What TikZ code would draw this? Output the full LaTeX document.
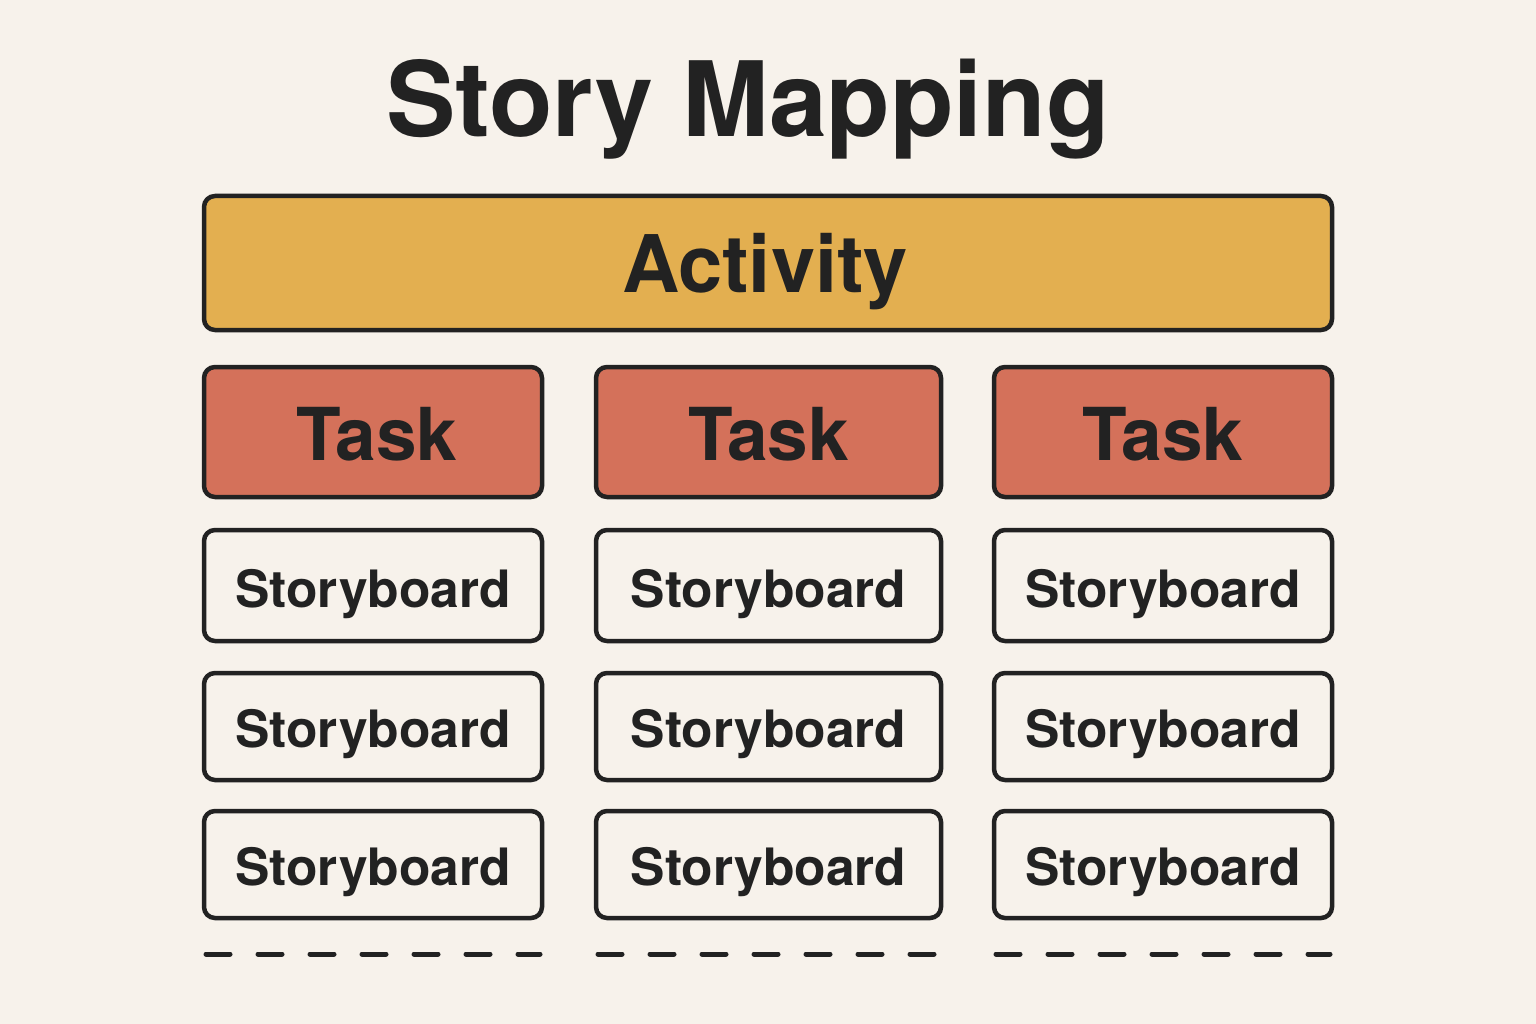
\documentclass[tikz,border=0pt]{standalone}
\usepackage{fontspec}
\setmainfont{TeX Gyre Heros}
\definecolor{bg}{HTML}{F7F2EB}
\definecolor{actfill}{HTML}{E3AF50}
\definecolor{taskfill}{HTML}{D4715A}
\definecolor{ink}{HTML}{222222}
\begin{document}
\begin{tikzpicture}[x=1pt,y=-1pt,
  box/.style={draw=ink,line width=4.5pt,rounded corners=11pt,inner sep=0pt},
  actbox/.style={box,fill=actfill},
  taskbox/.style={box,fill=taskfill},
  sbbox/.style={box,fill=bg},
  lbl/.style={anchor=base,inner sep=0pt,text=ink},
  dashline/.style={draw=ink,line width=5pt,line cap=round,dash pattern=on 24pt off 28pt}
]
\fill[bg] (0,0) rectangle (1536,1024);
\useasboundingbox (0,0) rectangle (1536,1024);
\node[lbl,font=\fontsize{104}{106}\selectfont\bfseries] (title) at (748,137) {Story Mapping};
\draw[actbox] (204,196) rectangle (1332,330);
\node[lbl,font=\fontsize{79.5}{82}\selectfont\bfseries] (act) at (765,293) {Activity};
\foreach \i/\xa/\xb/\dx in {1/204/542/4,2/596/941/0,3/994/1332/0}{
  \draw[taskbox] (\xa,367) rectangle (\xb,497);
  \node[lbl,font=\fontsize{73}{75}\selectfont\bfseries] (task\i) at ({(\xa+\xb)/2+\dx},460) {Task};
  \foreach \j/\ya/\yb/\yt in {1/530/641/607,2/673/780/747,3/811/918/885}{
    \draw[sbbox] (\xa,\ya) rectangle (\xb,\yb);
    \node[lbl,font=\fontsize{51.5}{53}\selectfont\bfseries] (sb\i\j) at ({(\xa+\xb)/2},\yt) {Storyboard};
  }
  \coordinate (d\i a) at (\xa+2,954);
  \coordinate (d\i b) at (\xb-2,954);
  \draw[dashline] (d\i a) -- (d\i b);
}
\end{tikzpicture}
\end{document}
